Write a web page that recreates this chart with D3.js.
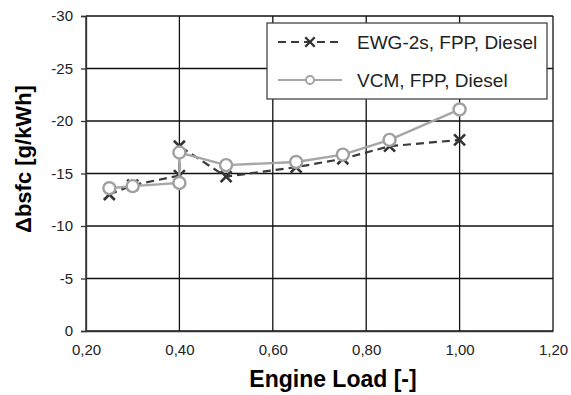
<!DOCTYPE html>
<html>
<head>
<meta charset="utf-8">
<script src="https://cdn.jsdelivr.net/npm/d3@7"></script>
<style>
  body { margin: 0; background: #fff; }
  text { font-family: "Liberation Sans", Arial, sans-serif; }
</style>
</head>
<body>
<div id="plot"></div>
<script>
// data (bsfc delta, negative = saving)
var load    = [0.25, 0.30, 0.40, 0.40, 0.50, 0.65, 0.75, 0.85, 1.00];
var ewgVals = [-13.0, -13.9, -14.8, -17.6, -14.7, -15.6, -16.4, -17.6, -18.2];
var vcmVals = [-13.6, -13.8, -14.1, -17.0, -15.8, -16.1, -16.8, -18.2, -21.1];
var xTicks = [0.2, 0.4, 0.6, 0.8, 1.0, 1.2];
var yTicks = [0, -5, -10, -15, -20, -25, -30];
var seriesNames = ["EWG-2s, FPP, Diesel", "VCM, FPP, Diesel"];

var margin = {top: 16, right: 18, bottom: 64, left: 86},
    width = 553 - margin.left,
    height = 331 - margin.top;

var svg = d3.select("#plot")
  .append("svg")
    .attr("width", 571)
    .attr("height", 395)
  .append("g")
    .attr("transform", "translate(" + margin.left + "," + margin.top + ")");

var x = d3.scaleLinear().domain([0.2, 1.2]).range([0, width]);
var y = d3.scaleLinear().domain([0, -30]).range([height, 0]);

// grid
svg.selectAll(".vgrid")
  .data(xTicks)
  .enter().append("line")
    .attr("x1", function(d) { return x(d); })
    .attr("x2", function(d) { return x(d); })
    .attr("y1", 0).attr("y2", height)
    .style("stroke", "#111").style("stroke-width", 1.3);
svg.selectAll(".hgrid")
  .data(yTicks)
  .enter().append("line")
    .attr("x1", 0).attr("x2", width)
    .attr("y1", function(d) { return y(d); })
    .attr("y2", function(d) { return y(d); })
    .style("stroke", "#111").style("stroke-width", 1.3);

var fmt = function(d) { return d3.format(".2f")(d).replace(".", ","); };

var xAxis = svg.append("g")
    .attr("transform", "translate(0," + height + ")")
    .call(d3.axisBottom(x).tickValues(xTicks).tickFormat(fmt).tickSize(0).tickPadding(13));
var yAxis = svg.append("g")
    .call(d3.axisLeft(y).tickValues(yTicks).tickFormat(function(d) { return String(d); }).tickSize(5).tickPadding(8));
[xAxis, yAxis].forEach(function(a) {
  a.select(".domain").style("stroke", "#333").style("stroke-width", 1.3);
  a.selectAll(".tick line").style("stroke", "#333").style("stroke-width", 1.3);
  a.selectAll("text").style("font-size", "15px").style("fill", "#222")
    .style("font-family", "'Liberation Sans', Arial, sans-serif");
});

svg.append("text")
  .attr("text-anchor", "middle")
  .attr("x", 247)
  .attr("y", height + 56)
  .style("font-size", "23px")
  .style("font-weight", "bold")
  .text("Engine Load [-]");

svg.append("text")
  .attr("text-anchor", "middle")
  .attr("transform", "rotate(-90)")
  .attr("x", -(159 - margin.top))
  .attr("y", -margin.left + 31)
  .style("font-size", "22px")
  .style("font-weight", "bold")
  .text("\u0394bsfc [g/kWh]");

var line = d3.line()
  .x(function(d) { return x(d[0]); })
  .y(function(d) { return y(d[1]); });

var ewg = d3.zip(load, ewgVals);
var vcm = d3.zip(load, vcmVals);

svg.append("path")
  .datum(ewg)
  .attr("d", line)
  .style("fill", "none")
  .style("stroke", "#3a3a3a")
  .style("stroke-width", 2.2)
  .style("stroke-dasharray", "8,5");

var cross = d3.symbol().type(d3.symbolX).size(80);
svg.selectAll(".ewg")
  .data(ewg)
  .enter().append("path")
    .attr("transform", function(d) { return "translate(" + x(d[0]) + "," + y(d[1]) + ")"; })
    .attr("d", cross)
    .style("stroke", "#333")
    .style("stroke-width", 2.6);

svg.append("path")
  .datum(vcm)
  .attr("d", line)
  .style("fill", "none")
  .style("stroke", "#a6a6a6")
  .style("stroke-width", 2.4);

svg.selectAll(".vcm")
  .data(vcm)
  .enter().append("circle")
    .attr("cx", function(d) { return x(d[0]); })
    .attr("cy", function(d) { return y(d[1]); })
    .attr("r", 6)
    .style("fill", "#fff")
    .style("stroke", "#a0a0a0")
    .style("stroke-width", 2.4);

// legend
var lg = svg.append("g").attr("transform", "translate(" + (267 - margin.left) + "," + (23 - margin.top) + ")");
lg.append("rect")
  .attr("width", 280).attr("height", 76)
  .style("fill", "#fff").style("stroke", "#444").style("stroke-width", 1.3);

lg.append("line")
  .attr("x1", 11).attr("x2", 75).attr("y1", 19).attr("y2", 19)
  .style("stroke", "#3a3a3a").style("stroke-width", 2.2).style("stroke-dasharray", "8,5");
lg.append("path")
  .attr("transform", "translate(43,19)")
  .attr("d", d3.symbol().type(d3.symbolX).size(60))
  .style("stroke", "#333").style("stroke-width", 2.4);

lg.append("line")
  .attr("x1", 11).attr("x2", 75).attr("y1", 57).attr("y2", 57)
  .style("stroke", "#a6a6a6").style("stroke-width", 2);
lg.append("circle")
  .attr("cx", 43).attr("cy", 57).attr("r", 4)
  .style("fill", "#fff").style("stroke", "#a0a0a0").style("stroke-width", 1.8);

lg.selectAll(".lt")
  .data(seriesNames)
  .enter().append("text")
    .attr("x", 90)
    .attr("y", function(d, i) { return 19 + i * 38; })
    .attr("dy", "0.35em")
    .style("font-size", "19px")
    .style("fill", "#222")
    .text(function(d) { return d; });
</script>
</body>
</html>
